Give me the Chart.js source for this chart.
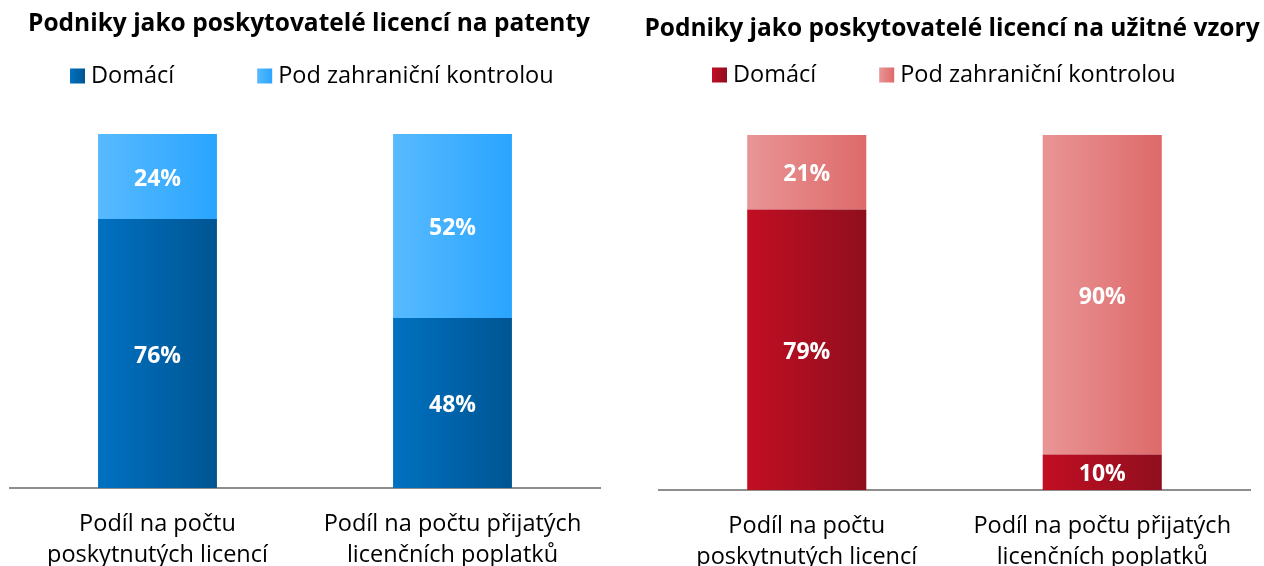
<!DOCTYPE html>
<html>
<head>
<meta charset="utf-8">
<script src="https://cdn.jsdelivr.net/npm/chart.js@4.4.1/dist/chart.umd.min.js"></script>
<style>
  html, body { margin: 0; padding: 0; background: #fff; }
  body { width: 1264px; height: 566px; position: relative; overflow: hidden; }
  .box { position: absolute; top: 0; height: 566px; }
  #b1 { left: 0; width: 618px; }
  #b2 { left: 640px; width: 624px; }
</style>
</head>
<body>
<div class="box" id="b1"><canvas id="c1"></canvas></div>
<div class="box" id="b2"><canvas id="c2"></canvas></div>
<script>
// ---- data ----
const categories = [["Podíl na počtu", "poskytnutých licencí"], ["Podíl na počtu přijatých", "licenčních poplatků"]];
const seriesNames = ["Domácí", "Pod zahraniční kontrolou"];
const patentTitle = "Podniky jako poskytovatelé licencí na patenty";
const utilityTitle = "Podniky jako poskytovatelé licencí na užitné vzory";
const patentDomestic = [76, 48];
const patentForeign = [24, 52];
const utilityDomestic = [79, 10];
const utilityForeign = [21, 90];

// ---- styles ----
const FONT = "'Open Sans', Lato, sans-serif";
const TITLE_SIZE = 24.5;
const TEXT_SIZE = 23.5;
const grads = {
  blueDark: ['#0071C1', '#005592'],
  blueLight: ['#58BAFF', '#29A5FF'],
  redDark: ['#C20E23', '#8F0F1E'],
  redLight: ['#E99596', '#DE6A6A']
};
const BAR_PCT = 0.403;

function gradFill(pair) {
  return function (ctx) {
    const chart = ctx.chart;
    const xs = chart.scales && chart.scales.x;
    if (!chart.chartArea || !xs || ctx.dataIndex === undefined) return pair[0];
    const cx = xs.getPixelForValue(ctx.dataIndex);
    const half = (xs.width / chart.data.labels.length) * BAR_PCT / 2;
    const g = chart.ctx.createLinearGradient(cx - half, 0, cx + half, 0);
    g.addColorStop(0, pair[0]);
    g.addColorStop(1, pair[1]);
    return g;
  };
}

const labelPlugin = {
  id: 'segLabels',
  afterDatasetsDraw(chart) {
    const ctx = chart.ctx;
    ctx.save();
    ctx.fillStyle = '#ffffff';
    ctx.font = "bold 23px " + FONT;
    ctx.textAlign = 'center';
    ctx.textBaseline = 'middle';
    chart.data.datasets.forEach((ds, di) => {
      const meta = chart.getDatasetMeta(di);
      meta.data.forEach((el, i) => {
        const v = ds.data[i];
        ctx.fillText(v + '%', el.x, (el.y + el.base) / 2 + 2.5);
      });
    });
    ctx.restore();
  }
};

const legendPlugin = {
  id: 'customLegend',
  afterDraw(chart, args, opts) {
    const ctx = chart.ctx;
    ctx.save();
    ctx.font = TEXT_SIZE + "px " + FONT;
    ctx.textBaseline = 'middle';
    ctx.textAlign = 'left';
    let x = opts.startX;
    const y = opts.y;
    chart.data.datasets.forEach((ds, di) => {
      const pair = opts.colors[di];
      const g = ctx.createLinearGradient(x, 0, x + 15, 0);
      g.addColorStop(0, pair[0]);
      g.addColorStop(1, pair[1]);
      ctx.fillStyle = g;
      ctx.fillRect(x, y - 7.5, 15, 15);
      x += 21;
      ctx.fillStyle = '#000000';
      ctx.fillText(ds.label, x, y);
      x += ctx.measureText(ds.label).width + opts.gap;
    });
    ctx.restore();
  }
};

function makeChart(id, title, dom, foreign, colDom, colFor, cfg) {
  const titleLine = TITLE_SIZE * 1.2;
  return new Chart(document.getElementById(id), {
    type: 'bar',
    data: {
      labels: categories,
      datasets: [
        { label: seriesNames[0], data: dom, backgroundColor: gradFill(colDom), borderWidth: 0 },
        { label: seriesNames[1], data: foreign, backgroundColor: gradFill(colFor), borderWidth: 0 }
      ]
    },
    options: {
      responsive: true,
      maintainAspectRatio: false,
      animation: false,
      events: [],
      datasets: { bar: { categoryPercentage: 1, barPercentage: BAR_PCT } },
      layout: { padding: 0 },
      plugins: {
        legend: { display: false },
        tooltip: { enabled: false },
        title: {
          display: true,
          text: title,
          color: '#000000',
          font: { family: FONT, size: TITLE_SIZE, weight: 'bold', lineHeight: 1.2 },
          padding: { top: cfg.titleTop, bottom: cfg.areaTop - cfg.titleTop - titleLine }
        },
        customLegend: { startX: cfg.legX, y: cfg.legY, gap: cfg.legGap, colors: [colDom, colFor] }
      },
      scales: {
        x: {
          stacked: true,
          grid: { display: false },
          border: { display: true, color: '#8E8E8E', width: 2 },
          ticks: {
            color: '#000000',
            padding: cfg.tickPad,
            maxRotation: 0,
            autoSkip: false,
            font: { family: FONT, size: TEXT_SIZE, lineHeight: 1.32 }
          },
          afterFit(scale) { scale.height = 566 - cfg.areaBottom; }
        },
        y: {
          stacked: true,
          display: true,
          min: 0,
          max: 100,
          grid: { display: false },
          border: { display: false },
          ticks: { display: false },
          afterFit(scale) { scale.width = cfg.leftSpace; }
        },
        yRight: {
          position: 'right',
          display: true,
          grid: { display: false },
          border: { display: false },
          ticks: { display: false },
          afterFit(scale) { scale.width = cfg.rightSpace; }
        }
      }
    },
    plugins: [labelPlugin, legendPlugin]
  });
}

makeChart('c1', patentTitle, patentDomestic, patentForeign, grads.blueDark, grads.blueLight,
  { leftSpace: 10, rightSpace: 18, titleTop: 9, areaTop: 134, areaBottom: 488, legX: 70, legY: 76, legGap: 83, tickPad: 13 });
makeChart('c2', utilityTitle, utilityDomestic, utilityForeign, grads.redDark, grads.redLight,
  { leftSpace: 19, rightSpace: 14, titleTop: 14, areaTop: 135, areaBottom: 490, legX: 72, legY: 75, legGap: 63, tickPad: 13 });
</script>
</body>
</html>
